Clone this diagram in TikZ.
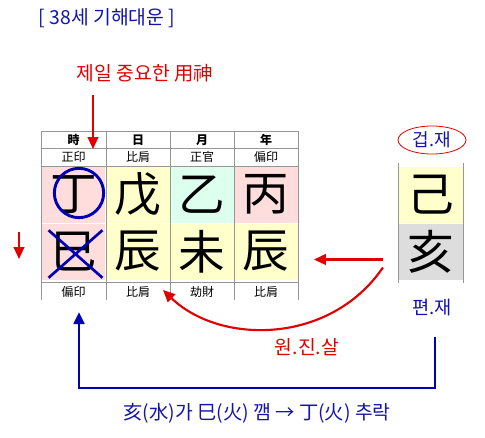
\documentclass[tikz,border=0pt]{standalone}
\usepackage{fontspec}
\setmainfont{Noto Sans CJK KR}
\usetikzlibrary{arrows.meta,shapes.geometric}

\definecolor{pinkcell}{RGB}{255,221,221}
\definecolor{yellowcell}{RGB}{255,255,204}
\definecolor{mintcell}{RGB}{221,255,238}
\definecolor{greycell}{RGB}{221,221,221}
\definecolor{gridgrey}{RGB}{150,150,150}
\definecolor{inkblue}{RGB}{20,20,170}
\definecolor{markblue}{RGB}{0,0,180}
\definecolor{inkred}{RGB}{225,0,0}

\begin{document}
\begin{tikzpicture}[x=0.75pt,y=-0.75pt,
    cell/.style={inner sep=0pt,minimum width=47.5pt,minimum height=42pt,
                 font=\fontsize{35}{35}\selectfont},
    small/.style={inner sep=0pt,font=\fontsize{9}{9}\selectfont},
    grid/.style={gridgrey,line width=0.6pt},
    redarrow/.style={inkred,line width=1.6pt,-{Triangle[length=9pt,width=8pt]}},
    bluearrow/.style={markblue,line width=2pt,-{Triangle[length=9pt,width=8pt]}}]
    \useasboundingbox (0,0) rectangle (485,437);
    % titles
    \node[inkblue,font=\fontsize{14.5}{14.5}\selectfont] (title) at (107,18) {[ 38세 기해대운 ]};
    \node[inkred,font=\fontsize{14.5}{14.5}\selectfont] (yong) at (145,73) {제일 중요한 用神};
    % pillars
    \node[cell,fill=pinkcell] (s1) at (73.5,194.5) {丁};
    \node[cell,fill=yellowcell] (s2) at (138,194.5) {戊};
    \node[cell,fill=mintcell] (s3) at (202,194.5) {乙};
    \node[cell,fill=pinkcell] (s4) at (266,194.5) {丙};
    \node[cell,fill=pinkcell] (r1) at (73.5,251.5) {巳};
    \node[cell,fill=yellowcell] (r2) at (138,251.5) {辰};
    \node[cell,fill=yellowcell] (r3) at (202,251.5) {未};
    \node[cell,fill=yellowcell] (r4) at (266,251.5) {辰};
    % grid
    \foreach \x in {41,106,170,234,298}
        \draw[grid] (\x,131) -- (\x,300);
    \foreach \y in {131,148,166,282}
        \draw[grid] (41,\y) -- (298,\y);
    % labels
    \node[small,font=\fontsize{9}{9}\selectfont\bfseries] (h1) at (73.5,140) {時};
    \node[small,font=\fontsize{9}{9}\selectfont\bfseries] (h2) at (138,140) {日};
    \node[small,font=\fontsize{9}{9}\selectfont\bfseries] (h3) at (202,140) {月};
    \node[small,font=\fontsize{9}{9}\selectfont\bfseries] (h4) at (266,140) {年};
    \node[small] (t1) at (73.5,157) {正印};
    \node[small] (t2) at (138,157) {比肩};
    \node[small] (t3) at (202,157) {正官};
    \node[small] (t4) at (266,157) {偏印};
    \node[small] (b1) at (73.5,292) {偏印};
    \node[small] (b2) at (138,292) {比肩};
    \node[small] (b3) at (202,292) {劫財};
    \node[small] (b4) at (266,292) {比肩};
    % daewoon
    \node[cell,minimum width=48.5pt,fill=yellowcell] (ds) at (430.5,194.5) {己};
    \node[cell,minimum width=48.5pt,fill=greycell] (dr) at (430.5,251.5) {亥};
    \draw[grid] (398,163) -- (398,283);
    \draw[grid] (463,163) -- (463,283);
    \node[inkblue,font=\fontsize{13.5}{13.5}\selectfont] (geob) at (432,140) {겁.재};
    \node[draw=inkred,line width=0.6pt,ellipse,minimum width=51pt,minimum height=21pt] (geobring) at (432,140) {};
    \node[inkblue,font=\fontsize{14}{14}\selectfont] (pyeon) at (432,307) {편.재};
    % marks
    \node[draw=markblue,line width=2.2pt,circle,minimum size=37pt,inner sep=0pt] (ring) at (79,193) {};
    \draw[markblue,line width=2pt] ([shift={(7,7)}]r1.north west) -- ([shift={(-3,-2)}]r1.south east);
    \draw[markblue,line width=2pt] ([shift={(-3,7)}]r1.north east) -- ([shift={(7,-2)}]r1.south west);
    % arrows
    \draw[redarrow] ([shift={(-52,22)}]yong.center) -- ([shift={(19.5,9)}]h1.center);
    \coordinate (fallA) at (19,232);
    \coordinate (fallB) at (19,259);
    \draw[redarrow] (fallA) -- (fallB);
    \draw[redarrow] ([shift={(-15,8)}]dr.west) -- ([shift={(-84,8)}]dr.west);
    \draw[redarrow] ([shift={(-15,16)}]dr.west) .. controls (330,345) and (220,345) .. ([shift={(25,-2)}]b2.center);
    \node[inkred,font=\fontsize{14.5}{14.5}\selectfont] (wonjin) at (307,347) {원.진.살};
    \draw[bluearrow] ([shift={(3,30)}]pyeon.center) -- (435,388) -- (79,388) -- ([shift={(5.5,20)}]b1.center);
    \node[inkblue,font=\fontsize{14.5}{14.5}\selectfont] (note) at (257,413) {亥(水)가 巳(火) 깸 → 丁(火) 추락};
\end{tikzpicture}
\end{document}
